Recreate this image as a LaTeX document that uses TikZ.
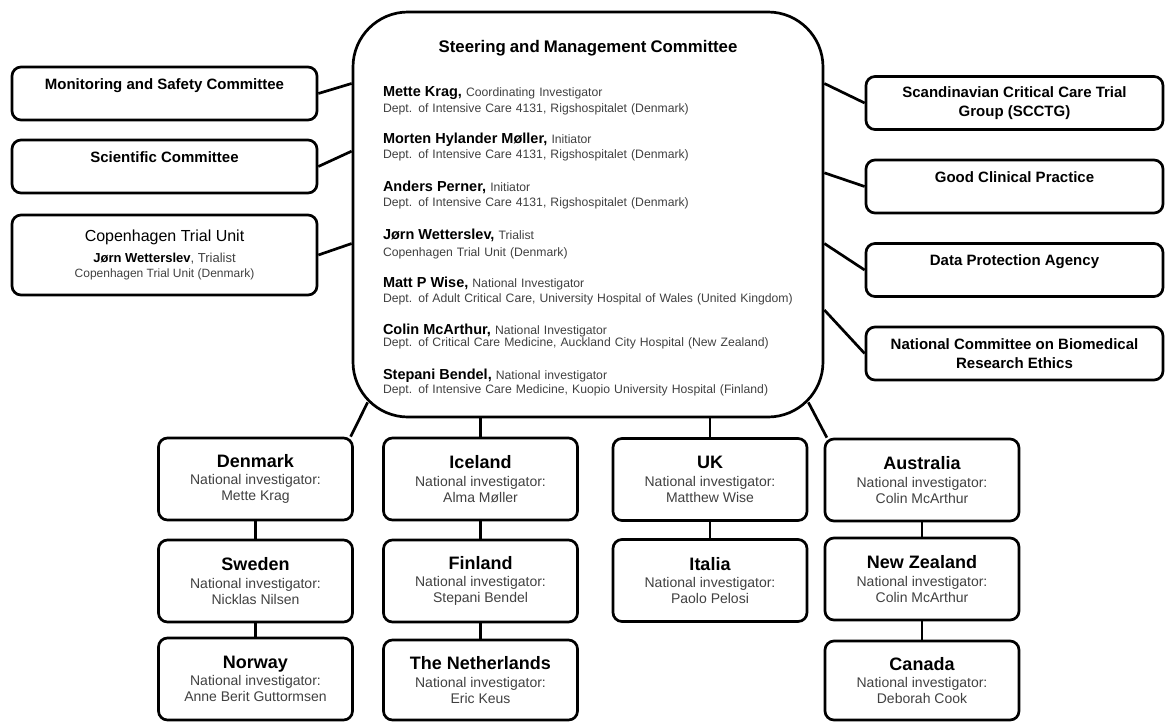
\documentclass[tikz,border=0pt]{standalone}
\usepackage{fontspec}
\setmainfont{Liberation Sans}
\usetikzlibrary{calc}
\definecolor{txtgray}{rgb}{0.25,0.25,0.25}
\tikzset{box/.style = {draw, line width=2.7pt, rounded corners=9pt, align=center, inner sep=2pt}}
\tikzset{sidebox/.style = {box, minimum width=305pt, minimum height=53pt, font=\fontsize{15}{19}\selectfont\bfseries}}
\tikzset{rightbox/.style = {sidebox, minimum width=297pt}}
\tikzset{countrybox/.style = {box, minimum width=194pt, minimum height=82pt, font=\fontsize{14}{16}\selectfont, text=txtgray}}
\newcommand{\country}[2]{{\fontsize{18}{16}\selectfont\bfseries\color{black}#1}\\[1.5pt]National investigator:\\#2}
\newcommand{\member}[2]{{\fontsize{14.5}{16}\selectfont\bfseries\color{black}#1} #2}

\begin{document}
\begin{tikzpicture}[x=1pt,y=-1pt]
\useasboundingbox (0,0) rectangle (1165,721);
			\begin{scope}[every node/.style={box}]
			    \node [minimum width=470pt, minimum height=405pt, rounded corners=55pt, align=left, text width=410pt,
			           font=\fontsize{12.2}{16}\selectfont, text=txtgray] (smc) at (588,214.5) {%
			        \makebox[\linewidth]{\rule{0pt}{20.5pt}\fontsize{16.8}{16}\selectfont\bfseries\color{black}Steering and Management Committee}\\[28pt]
			        \member{Mette Krag,}{Coordinating Investigator}\\
			        Dept. of Intensive Care 4131, Rigshospitalet (Denmark)\\[15pt]
			        \member{Morten Hylander Møller,}{Initiator}\\[-1pt]
			        Dept. of Intensive Care 4131, Rigshospitalet (Denmark)\\[17pt]
			        \member{Anders Perner,}{Initiator}\\[-1pt]
			        Dept. of Intensive Care 4131, Rigshospitalet (Denmark)\\[17pt]
			        \member{Jørn Wetterslev,}{Trialist}\\[1pt]
			        Copenhagen Trial Unit (Denmark)\\[15pt]
			        \member{Matt P Wise,}{National Investigator}\\[-1pt]
			        Dept. of Adult Critical Care, University Hospital of Wales (United Kingdom)\\[16pt]
			        \member{Colin McArthur,}{National Investigator}\\[-4pt]
			        Dept. of Critical Care Medicine, Auckland City Hospital (New Zealand)\\[17pt]
			        \member{Stepani Bendel,}{National investigator}\\[-2pt]
			        Dept. of Intensive Care Medicine, Kuopio University Hospital (Finland)};
			    \node [sidebox] (mon) at (164.5,93.5) {Monitoring and Safety Committee\\\mbox{}};
			    \node [sidebox] (sci) at (164.5,166.5) {Scientific Committee\\\mbox{}};
			    \node [sidebox, minimum height=80pt, font=\fontsize{12}{15}\selectfont, text=txtgray] (ctu) at (164.5,255) {%
			        {\fontsize{16}{16}\selectfont\color{black}Copenhagen Trial Unit}\\[6pt]
			        {\fontsize{13}{15}\selectfont\bfseries\color{black}Jørn Wetterslev}{\fontsize{13}{15}\selectfont, Trialist}\\
			        Copenhagen Trial Unit (Denmark)};
			    \node [rightbox] (scctg) at (1014.5,103) {Scandinavian Critical Care Trial\\Group (SCCTG)};
			    \node [rightbox] (gcp) at (1014.5,186.5) {Good Clinical Practice\\\mbox{}};
			    \node [rightbox] (dpa) at (1014.5,270) {Data Protection Agency\\\mbox{}};
			    \node [rightbox] (ncbre) at (1014.5,353.5) {National Committee on Biomedical\\Research Ethics};
			    \node [countrybox] (den) at (255.5,479) {\country{Denmark}{Mette Krag}};
			    \node [countrybox] (swe) at (255.5,581) {\country{Sweden}{Nicklas Nilsen}};
			    \node [countrybox] (nor) at (255.5,679) {\country{Norway}{Anne Berit Guttormsen}};
			    \node [countrybox] (ice) at (480.5,479) {\country{Iceland}{Alma Møller}};
			    \node [countrybox] (fin) at (480.5,581) {\country{Finland}{Stepani Bendel}};
			    \node [countrybox, minimum height=80pt] (net) at (480.5,680) {\country{The Netherlands}{Eric Keus}};
			    \node [countrybox] (uk) at (710,479.5) {\country{UK}{Matthew Wise}};
			    \node [countrybox] (ita) at (710,580.5) {\country{Italia}{Paolo Pelosi}};
			    \node [countrybox] (aus) at (922,480) {\country{Australia}{Colin McArthur}};
			    \node [countrybox] (nzl) at (922,579) {\country{New Zealand}{Colin McArthur}};
			    \node [countrybox, minimum height=79pt] (can) at (922,680.5) {\country{Canada}{Deborah Cook}};
			\end{scope}
			\coordinate (smcsw) at ($(smc.south west)+(16,-16)$);
			\coordinate (smcse) at ($(smc.south east)+(-16,-16)$);
			\begin{scope}[every edge/.style={draw=black, line width=2.7pt}]
			    \path (mon.east) edge (smc.151);
			    \path (sci.east) edge (smc.165);
			    \path (ctu.east) edge (smc.187);
			    \path (scctg.west) edge (smc.29);
			    \path (gcp.west) edge (smc.10);
			    \path (dpa.west) edge (smc.-7);
			    \path (ncbre.west) edge (smc.-22);
			    \path (den.24) edge (smcsw);
			    \path (aus.156) edge (smcse);
			    \path (ice.north) edge (smc.south -| ice.north);
			    \path (uk.north) edge (smc.south -| uk.north);
			    \path (den) edge (swe);
			    \path (swe) edge (nor);
			    \path (ice) edge (fin);
			    \path (fin) edge (net);
			    \path (uk) edge (ita);
			    \path (aus) edge (nzl);
			    \path (nzl) edge (can);
			\end{scope}
		\end{tikzpicture}
\end{document}
